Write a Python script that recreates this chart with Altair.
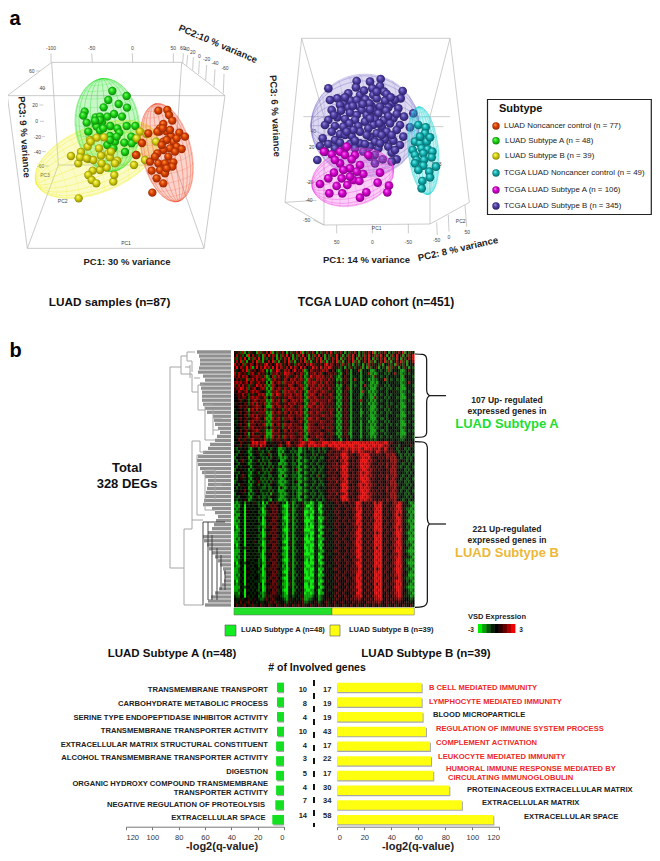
import altair as alt
import numpy as np
import pandas as pd

W, H = 644, 845
FONT = "Liberation Sans"
alt.data_transformers.disable_max_rows()

# ---------- coordinate systems ----------
PAGE = ([8, 8 + W], [0, W], [8, 8 + H], [0, H])
PCA_A = ([0, 720], [-8, 232], [0, 960], [-8, 312])      # panel a, left
PCA_B = ([0, 1200], [252, 652], [0, 900], [12, 312])    # panel a, right
HEAT = ([0, 90], [226, 406.3], [0, 85], [343, 598.7])   # panel b heat map

# ---------- panel a values ----------
green_a = [(337,273),(380,288),(325,300),(311,322),(356,312),(381,323),(254,335),(250,347),(342,342),(287,352),(300,350),(322,350),(366,350),(260,368),(287,372),(306,367),(290,380),(331,378),(380,378),(406,378),(300,392),(352,385),(330,408),(358,398),(394,410),(405,420),(373,428),(322,435),(345,425),(340,445),(375,456),(330,420),(300,360),(310,385),(395,430),(265,395),(350,410),(285,362)]
yellow_a = [(213,468),(243,456),(235,490),(240,472),(265,477),(270,420),(290,413),(263,440),(297,445),(303,467),(325,460),(330,472),(352,482),(300,510),(320,503),(305,490),(278,512),(265,525),(275,540),(289,550),(340,545),(343,525),(236,595),(402,495),(435,480),(420,395),(468,425),(410,465),(280,480),(272,425),(410,415),(312,412),(333,455),(260,475),(345,490),(440,402)]
red_a = [(475,332),(502,330),(507,345),(517,362),(490,372),(480,385),(500,395),(478,395),(513,408),(538,398),(555,410),(426,429),(490,425),(520,425),(530,440),(545,447),(510,445),(490,450),(472,460),(505,470),(520,487),(450,485),(475,490),(495,490),(455,512),(480,510),(495,520),(517,500),(470,535),(490,550),(457,578),(465,470),(530,415),(500,420),(525,455),(445,400),(472,395),(408,465),(500,505),(485,435),(510,390),(488,385)]
purple_b = [(290,183),(330,185),(362,177),(205,205),(288,202),(337,205),(360,198),(372,215),(380,222),(265,220),(300,225),(340,225),(428,213),(422,235),(395,250),(210,240),(232,235),(252,250),(272,242),(290,240),(316,238),(350,235),(375,242),(405,240),(240,255),(265,262),(295,258),(335,258),(360,260),(385,262),(415,265),(215,270),(243,272),(270,278),(305,270),(340,272),(378,272),(355,280),(320,285),(290,285),(205,300),(232,292),(255,297),(285,300),(315,305),(345,298),(372,300),(400,295),(432,290),(460,280),(195,315),(225,318),(250,320),(295,318),(340,315),(390,310),(420,315),(365,320),(450,322),(215,335),(240,342),(275,348),(300,335),(350,340),(380,335),(410,330),(325,325),(188,355),(225,360),(255,345),(300,370),(330,350),(375,358),(430,350),(400,362),(345,365),(180,378),(205,372),(240,368),(270,372),(330,380),(355,385),(420,375),(385,380),(395,398),(345,405),(310,395),(255,385),(172,420),(368,418),(410,418),(395,425),(345,430),(330,410),
            (312,212),(350,215),(392,232),(328,250),(308,252),(255,232),(278,258),(222,285),(268,310),(330,295),(358,310),(410,282),(280,330),(260,335),(320,345),(365,345),(395,345),(285,362),(315,372),(225,385),(195,395),(360,370),(405,390),(285,385),(330,268),(385,288)]
magenta_b = [(192,395),(215,403),(240,395),(255,405),(285,405),(240,430),(275,418),(300,435),(270,445),(325,405),(310,462),(360,458),(222,458),(245,475),(205,475),(280,480),(298,483),(180,492),(230,498),(262,495),(353,488),(387,497),(382,517),(208,520),(247,520),(319,517),(300,533),(225,420),(250,450),(290,455),(270,470),(260,380)]
cyan_b = [(475,315),(497,322),(495,340),(465,365),(480,370),(500,365),(510,352),(485,385),(503,388),(517,395),(458,390),(465,405),(490,400),(515,412),(470,420),(492,420),(465,430),(490,437),(528,440),(508,455),(475,450),(510,472),(487,483),(485,505),(480,350)]

# ellipsoids: colour, centre x, centre y, long semi-axis, short semi-axis, tilt of long axis (deg)
ellipsoids_a = [("#f0f020",290,478,195,100,-22),("#20e020",322,375,140,97,83),("#f05030",500,458,150,75,77)]
ell_purple = ("#7868c8",315,317,162,155,0)
ell_magenta = ("#f040e0",278,472,125,85,-15)
ell_cyan = ("#20d8d8",490,392,132,46,84)

frame_a = [(155,187,545,187),(22,287,675,287),(155,187,22,287),(545,187,675,287),(22,287,82,745),(675,287,612,745),(82,745,612,745),(155,187,175,495),(545,187,525,495),(175,495,82,745),(525,495,612,745),(175,495,525,495),(153,160,153,187),(275,160,277,187),(397,160,398,187),(520,160,520,187),(550,160,548,190),(563,165,560,197),(580,172,578,210),(598,182,596,222),(620,195,617,240),(645,208,642,258),(672,222,670,280),(107,213,120,213),(137,265,127,265),(118,315,130,315),(120,364,132,364),(125,410,135,410),(125,455,137,455),(135,498,147,498)]
frame_b = [(125,55,570,55),(125,55,75,547),(570,55,628,547),(75,547,192,615),(628,547,510,612),(192,615,510,612),(125,55,192,290),(570,55,510,290),(130,290,570,290),(440,320,550,320),(192,290,192,615),(510,290,510,612),(160,600,192,615),(230,615,230,640),(337,615,337,640),(445,612,445,640),(530,608,532,645),(565,585,567,635),(615,555,620,620),(170,541,75,547),(170,487,145,487),(165,380,175,380)]

tick_a = [("-100",153,143),("-50",275,143),("0",397,143),("50",520,143),("60",548,145),("40",560,148),("20",578,155),("0",598,168),("-20",620,178),("-40",645,190),("-60",675,205),("60",95,213),("40",127,265),("20",105,315),("0",110,364),("-20",112,410),("-40",112,455),("-60",122,498),("PC3",135,525),("PC2",188,602),("PC1",378,728)]
tick_b = [("50",230,665),("0",337,665),("-50",445,665),("PC1",350,625),("-50",530,660),("0",567,650),("50",622,635),("PC2",602,602),("-50",140,600),("-40",147,541),("-20",150,487),("20",155,380),("40",160,332),("PC3",530,432)]

legend_names = ["LUAD Noncancer control (n = 77)","LUAD Subtype A (n = 48)","LUAD Subtype B (n = 39)","TCGA LUAD Noncancer control (n = 49)","TCGA LUAD Subtype A (n = 106)","TCGA LUAD Subtype B (n = 345)"]
legend_x = [504,505,505,504,504,504]
legend_y = [126,140.7,156,173,190,206]

def sphere(light, body, dark):
    return {"gradient": "radial", "x1": .36, "y1": .3, "r1": 0, "x2": .5, "y2": .5, "r2": .55,
            "stops": [{"offset": 0, "color": light}, {"offset": .45, "color": body}, {"offset": 1, "color": dark}]}

S_RED = sphere("#ff9a50", "#de4400", "#8a2000")
S_GREEN = sphere("#90ff80", "#1cd814", "#0a7a0a")
S_YELLOW = sphere("#fffc90", "#d8d410", "#807c00")
S_CYAN = sphere("#80f4f4", "#10b0b0", "#045c5c")
S_MAGENTA = sphere("#ff88ff", "#d800d0", "#780078")
S_PURPLE = sphere("#a098e0", "#5040a8", "#241a5c")

# ---------- panel b values: one digit per gene block / sample block, 0 = -3 ... 8 = +3 ----------
heat_rows = [
"5362715263 4172637481 5263741526 3748152637 4152637485 2637415263 7415263748 1526374152 6374815263",
"4736251847 3625174837 6152738461 5273846152 7384615273 3846152738 4615273846 2738461527 4846152738",
"6257384162 7384162537 4162573841 6257384162 5738416257 3841625738 4162573841 6257384162 3841625738",
"3748261537 4826153748 2615374826 1537482615 3748261537 4826153748 2615374826 1537482615 3748261537",
"7564726576 4756378564 5867364755 2675647586 6356478576 4652736251 3624152736 3526143625 1736251435",
"5847638571 3847586738 4857637485 7648574358 6748376875 5362415263 2536141725 3614251726 3514263142",
"6345758265 6456751316 5875376746 8565712476 5656767546 4212456414 3471434311 2432432724 3431124643",
"7376563267 5375652426 6756387766 4657621566 7567345665 6321546314 4341433712 1243423243 7331224243",
"6575767456 6766371247 2675367635 6737512386 6776756375 3212465413 3431343321 6342342434 3341154342",
"4656358267 5756762126 7565376476 7567621766 3767665756 4121556314 7341433121 2243482423 4231124343",
"6767567476 3675651417 5676276667 5766312767 7657367565 4252465413 3431243311 2134342434 3331224743",
"6375756263 5867572127 6465365776 4567621667 6376756656 4121546314 2341473212 1253423243 4341124342",
"5668757256 7456761317 5676376377 6756712476 6767365765 3212456614 3431342311 1342342324 3231114343",
"5476567367 6765452126 6765276766 7367521766 7656766356 4121465313 4341733121 2243432443 5331224243",
"4565756256 3576761217 5876376675 6767412677 6467565675 4212556414 3431243212 1342342424 3341124342",
"4465665267 6765572426 6365365776 5667521766 7656366566 3121465314 4331433211 6243423243 4231114343",
"4456345256 7656661217 5675276467 6757612376 6766665765 4212556413 3437342312 1342342434 3341224242",
"3545465267 3756572126 6765365766 7566421667 7357665656 4121465314 4341433121 2243432423 4331124343",
"4456556356 6766461117 5676376576 5367612776 5766756365 3212556413 3432342311 1342342534 3241114342",
"3445465167 5756572326 6465266766 6567521466 6657665666 4151465314 4341433211 2243423243 4331224343",
"4356456256 6366661217 5676376475 6757612676 5766356575 4212556413 3431242312 1342342324 3341124242",
"3345465267 5756562116 6365365766 5667521366 6656766566 3121465314 3341433211 2233432443 4231114343",
"4356456356 6765471217 5675266676 4656612776 5765356665 4212556413 3432342311 1342242434 3341224342",
"3345465267 5656362126 6665365466 5567521666 6657665566 4121465314 4341433121 2243423243 4331124243",
"4356456166 6465671217 4675276675 6656412766 5466656665 3212556413 3431342312 1342342424 3241114342",
"3445365267 5656562426 6365265766 5667511766 6656756366 4121465314 3341432211 2233432443 4331224343",
"4346456356 6765361217 5574376475 6656612766 5665456665 4212556313 3431342311 1342242434 3341124242",
"3445465157 5356561116 6665365666 5367521665 6657655366 3121465214 4341433211 2243423343 4231114343",
"4356456256 6665471217 5375276576 6556612466 5766646565 4312556413 3431342312 1342342424 3341224342",
"4465365367 5556572326 5665365466 5567521765 5357655465 4331446424 4442443323 2343433433 4332234343",
"3446545358 7867785435 4556457854 6567876788 7676888778 8788778878 8887878788 7877788565 4534435354",
"4536435267 6758674545 3467346765 5678765877 8777876887 8878887888 7788887878 8788767645 3524543463",
"3243454213 4425342423 4311224342 3411324232 4324233456 6786678678 7787688786 7686587465 4235423243",
"4324543123 4533243254 4312134423 2311324432 3425324565 5656777568 6687766675 6876576565 5324342434",
"3245434213 4452334624 3411523342 4213423342 5243345655 6657887565 4668788756 5656457667 6432423242",
"2443545132 3443232425 4321212432 3511323423 2432244566 5746878656 5467877865 5465647576 7542342324",
"3245634213 4524233254 4341124342 4213312342 3423345655 6457687546 4668888675 6546456476 7634532424",
"4324543123 3442524224 3411212432 2411323423 4234334556 5746778656 5568787765 5465647566 7543234243",
"3243454313 4533243252 4325123442 3213312342 3423245656 6657887546 4668878756 5646457467 6632432342",
"2445434132 3445232425 4311212342 4611323423 2432344565 5746878565 5467887675 6465546576 7543423243",
"3324543213 4524323254 4321123342 3213412342 3423345655 6457787546 4668678765 5546456476 7534332424",
"4243654123 3433234224 3411512432 2311323423 4264234556 5646878656 5568787675 6465647566 7643234243",
"3245534213 4542323252 4321124342 3212312342 3423345656 6557687456 4668878756 5546457467 6542432342",
"2344434132 3463232425 3311212342 4511323433 2432344565 5746778565 5467887765 5465546576 7433423243",
"3425543213 4524323254 4321123342 3213412342 3423245655 6457887546 4678678675 6546456476 7634332424",
"4243454123 3433224224 3415212432 2311323423 4234334556 5646878656 5568787765 5465647566 7543234243",
"3345464213 4542333252 4311124342 3212312342 3423345656 6557887456 4668878756 5646457467 6642432342",
"2444534132 3443232415 3321212342 4211523423 2432344565 5746678565 5467887675 6465546576 7533423243",
"3324443213 4524223254 4321123342 3213412342 3423245655 6457887546 4678878765 5546456476 7634332424",
"3243454123 3433234214 3311212432 2311323423 4234234556 5646878656 5568787675 6465647566 7543234243",
"2123415343 5324031546 4634230351 2434512201 3411435434 5654654655 6887465646 8578546546 7687534212",
"1213404343 4423114365 6543100241 3234520011 4310245343 5465465465 5877546564 8788465456 6887453321",
"2124305434 3432025456 5643210351 2343511201 3401334543 5654546556 6878465646 7878546465 7787532212",
"1223404543 4423013546 5643110351 2434500110 3410245434 6465465546 5788546564 8788456456 6878453121",
"2114305434 3432115365 6534210241 3243501201 4321345343 5654546455 6887465646 8878546546 7857542312",
"1133405343 4324024546 5634100351 2434510100 3401135434 5465465546 6788546465 8788465456 6887453212",
"1214304434 3423015456 6543210251 3243500011 4310245343 5654654655 5887465564 7878546465 7787532121",
"1123405343 4432014365 5634120341 2434410201 3411345434 6465465456 6878546646 8788456546 6887453212",
"2024304434 3323115546 6543210351 3243510100 4310134543 5654546555 6687465565 8878465456 7867542311",
"2113405343 4424024456 5634100241 2434500011 3401345334 5465465546 5788546646 8788546465 6878453212",
"1124304434 3432015365 6543210351 3343511100 3420145443 6654546465 6887465564 8578456546 7887532121",
"1123405543 4323014546 5634120351 2434410201 4301345434 5465465556 6788546646 8788465456 6887543212",
"1214304434 3432125456 6543210241 3243500100 3411134543 5654654465 5887465564 8878546465 7687453111",
"1123405343 5423014365 5634100351 2434510011 4310345434 6465465546 6878546646 8788456546 6887532212",
"2024304434 3332015546 6534220351 3343501100 3401145343 5654546555 6887465565 8878465456 7787542321",
"2123425343 4424114456 5643100241 2434400101 3410345434 5465465456 5788546646 8588546465 6878453212",
"1114304434 3423015365 6534210351 3243510100 4321134543 6654546465 6887465564 8878456546 7887532111",
"1123405343 4332024546 5643110341 2434500011 3401345334 5465465556 6788546646 8788465456 6687543212",
"1214304434 3432015456 6534210351 3343511100 4310145443 5654654465 5887465564 8878546465 7787453321",
"1123405343 4423014365 5643100241 2434410201 3401345434 6465465546 6678546646 8788456546 6887532212",
"2024324434 3323115546 6534210351 3243500100 3410134543 5654546555 6887465565 8878465456 7887542111",
"2113405343 4424014456 5634120351 2434510011 4321345334 5465465456 5788546646 8788546465 6878453212",
"1124304434 3432025365 6543210241 3343501100 3401145443 6654546465 6687465564 8578456546 7887532321",
"1123405543 4323014546 5634100351 2434400101 3410345434 5465465556 6788546646 8788465456 6887543212",
"1214304434 3432015456 6534220351 3243510100 4301134543 5654654465 5887465564 8878546465 7787453111",
"1123405343 4432114365 5643100341 2434500011 3411345434 6465465546 6878546646 8788456546 6687532212",
"2024304434 3332015546 6534210351 3343511100 4310145343 5654546555 6887465565 8878465456 7887542321",
"2123405343 4424024456 5634110251 2434400201 3401345434 5465465456 5788546646 8588546465 6878453212",
"1114324434 3423015365 6543210351 3243500100 3420134543 6654546465 6887465564 8878456546 7887532111",
"1123405343 4324014546 5634100341 2434510011 4301345334 5465465556 6688546646 8788465456 6887543212",
"2214304434 3432125456 6534210351 3343501101 3401145443 5654654465 5887465564 8878546465 7787453221",
"3224405343 4423125365 5543211342 3435511112 4312345434 6465465546 6778546646 7788456546 6787533312",
"4335344534 5432236456 5444321353 4343611223 4412345543 5654556465 6676465564 7778546465 6676544323",
"5346453645 4343345365 6354432534 5454622334 5523456345 6455645546 5565546656 6676456556 5565453534",
"4635364536 3546354635 4635463546 3564635463 5463546354 6354635465 4635463546 5463546354 6354635463",
]
LEVELS = [-3, -2.25, -1.5, -0.75, 0, 0.75, 1.5, 2.25, 3]
heat_colors = ["#00f000", "#00a400", "#005c00", "#002200", "#000000", "#2c0000", "#640000", "#aa0000", "#f00000"]
scale_cells = [0, 1, 2, 3, 4, 5, 6, 7, 8]

leaf_start = [197,199,200,200,199,198,203,205,200,201,202,202,202,203,205,207,213,214,215,218,220,217,215,210,208,203,198,197,198,200,202,205,208,208,207,206,205,204,203,212,215,218,216,214,212,208,203,204,207,209,212,215,218,220,223,224,225,224,222,219,215,211,208,205]
tree_grey = [(170,367,170,568),(170,367,181,367),(170,568,184,568),(181,356,181,374),(181,356,187,356),(181,374,192,374),(187,352,187,361),(187,352,195,352),(187,361,192,361),(192,361,192,372),(192,374,192,392),(192,392,198,392),(198,385,198,410),(198,385,204,385),(198,410,205,410),(205,405,205,440),(205,405,213,405),(205,440,215,440),(213,410,213,435),(213,418,222,418),(213,430,219,430),(184,529,184,605),(184,529,192,529),(184,605,203,605),(192,441,192,529),(192,441,200,441),(200,441,200,452),(200,452,205,452),(192,520,203,520),(185,367,190,367),(190,365,190,378),(194,378,200,378),(197,455,197,515),(197,455,203,455),(197,515,205,515),(205,470,205,510),(205,470,215,470),(205,510,215,510),(215,470,215,500),(215,485,222,485)]
tree_dark = [(208,522,208,600),(203,522,225,522),(203,522,203,605),(212,535,212,600),(217,548,217,600),(221,555,221,590),(225,570,225,590)]

brace_a = [(15,42),(38,43),(47,48),(50,58),(50,150),(52,160),(60,167),(52,174),(50,185),(50,278),(47,286),(38,291),(15,292)]
brace_b = [(15,305),(38,306),(48,311),(52,322),(52,535),(54,546),(60,552),(54,558),(52,570),(52,785),(48,794),(38,800),(15,802)]

terms_a = ["TRANSMEMBRANE TRANSPORT","CARBOHYDRATE METABOLIC PROCESS","SERINE TYPE ENDOPEPTIDASE INHIBITOR ACTIVITY","TRANSMEMBRANE TRANSPORTER ACTIVITY","EXTRACELLULAR MATRIX STRUCTURAL CONSTITUENT","ALCOHOL TRANSMEMBRANE TRANSPORTER ACTIVITY","DIGESTION","ORGANIC HYDROXY COMPOUND TRANSMEMBRANE TRANSPORTER ACTIVITY","NEGATIVE REGULATION OF PROTEOLYSIS","EXTRACELLULAR SPACE"]
values_a = [5.3,5.3,5.3,5.3,6,6,6,6,6.6,8.9]
counts_a = [10,8,4,10,4,3,5,4,7,14]
terms_b = ["B CELL MEDIATED IMMUNITY","LYMPHOCYTE MEDIATED IMMUNITY","BLOOD MICROPARTICLE","REGULATION OF IMMUNE SYSTEM PROCESS","COMPLEMENT ACTIVATION","LEUKOCYTE MEDIATED IMMUNITY","HUMORAL IMMUNE RESPONSE MEDIATED BY CIRCULATING IMMUNOGLOBULIN","PROTEINACEOUS EXTRACELLULAR MATRIX","EXTRACELLULAR MATRIX","EXTRACELLULAR SPACE"]
values_b = [62.5,62.5,63.2,65.7,68.6,69.4,71.1,83,92.3,115.6]
counts_b = [17,19,19,43,17,22,17,30,34,58]
count_y = [690,704,718.3,732.3,746,759.3,774,787.7,801,815.7]

lab_a = [("TRANSMEMBRANE TRANSPORT",268,690),("CARBOHYDRATE METABOLIC PROCESS",268,703.7),("SERINE TYPE ENDOPEPTIDASE INHIBITOR ACTIVITY",268,717.7),("TRANSMEMBRANE TRANSPORTER ACTIVITY",268,731),("EXTRACELLULAR MATRIX STRUCTURAL CONSTITUENT",268,745),("ALCOHOL TRANSMEMBRANE TRANSPORTER ACTIVITY",268,758),("DIGESTION",268,772),("ORGANIC HYDROXY COMPOUND TRANSMEMBRANE",268,783.7),("TRANSPORTER ACTIVITY",268,793),("NEGATIVE REGULATION OF PROTEOLYSIS",265,804.7),("EXTRACELLULAR SPACE",265.5,818.3)]
lab_b_red = [("B CELL MEDIATED IMMUNITY",429,688),("LYMPHOCYTE MEDIATED IMMUNITY",429,702),("REGULATION OF IMMUNE SYSTEM PROCESS",436,729),("COMPLEMENT ACTIVATION",436,743),("LEUKOCYTE MEDIATED IMMUNITY",438,757),("HUMORAL IMMUNE RESPONSE MEDIATED BY",446,768.7),("CIRCULATING IMMUNOGLOBULIN",448,777.7)]
lab_b_black = [("BLOOD MICROPARTICLE",433,715),("PROTEINACEOUS EXTRACELLULAR MATRIX",467,789.7),("EXTRACELLULAR MATRIX",482,803),("EXTRACELLULAR SPACE",524,817)]


# ---------- helpers ----------
def X(field, s, **kw):
    return alt.X(field, type="quantitative", scale=alt.Scale(domain=s[0], range=s[1], zero=False, nice=False), axis=None, title=None, **kw)

def Y(field, s):
    return alt.Y(field, type="quantitative", scale=alt.Scale(domain=s[2], range=s[3], zero=False, nice=False), axis=None, title=None)

def segs(rows, s, color, width=0.6, **mk):
    df = pd.DataFrame(rows, columns=["x", "y", "x2", "y2"])
    return alt.Chart(df).mark_rule(color=color, strokeWidth=width, **mk).encode(x=X("x", s), y=Y("y", s), x2="x2", y2="y2")

def text(rows, s=PAGE, size=8, bold=True, color="#111", align="center", angle=None):
    df = pd.DataFrame(rows, columns=["t", "x", "y"])
    mk = dict(font=FONT, fontSize=size, fontWeight="bold" if bold else "normal", color=color, align=align, baseline="middle")
    if angle is not None:
        mk["angle"] = angle
    return alt.Chart(df).mark_text(**mk).encode(x=X("x", s), y=Y("y", s), text="t:N")

def balls(points, s, fill, size=70):
    df = pd.DataFrame(points, columns=["x", "y"])
    return alt.Chart(df).mark_point(filled=True, shape="circle", fill=fill, opacity=1, size=size).encode(x=X("x", s), y=Y("y", s))

def ellipsoid(color, cx, cy, a, b, tilt, s):
    th = np.radians(tilt)
    def rot(u, v):
        return cx + u * np.cos(th) - v * np.sin(th), cy + u * np.sin(th) + v * np.cos(th)
    t = np.linspace(0, 2 * np.pi, 181)
    ex, ey = rot(a * np.cos(t), b * np.sin(t))
    i0, i1 = int(np.argmin(ex)), int(np.argmax(ex))
    ex2 = np.r_[ex, ex]; ey2 = np.r_[ey, ey]
    if i1 < i0:
        i1 += 181
    lo_x, lo_y = ex2[i0:i1 + 1], ey2[i0:i1 + 1]
    j0, j1 = int(np.argmax(ex)), int(np.argmin(ex))
    if j1 < j0:
        j1 += 181
    hi_x, hi_y = ex2[j0:j1 + 1][::-1], ey2[j0:j1 + 1][::-1]
    grid = np.linspace(ex.min(), ex.max(), 120)
    fill = pd.DataFrame({"x": grid, "y": np.interp(grid, lo_x, lo_y), "y2": np.interp(grid, hi_x, hi_y)})
    area = alt.Chart(fill).mark_area(color=color, opacity=0.25, interpolate="monotone").encode(x=X("x", s), y=Y("y", s), y2="y2")
    rows = []
    g = 0
    for lon in np.radians(np.arange(0, 360, 15)):
        tt = np.linspace(0, np.pi, 31)
        xx, yy = rot(a * np.cos(tt), b * np.sin(tt) * np.cos(lon))
        rows += [(g, k, p, q) for k, (p, q) in enumerate(zip(xx, yy))]
        g += 1
    for lat in np.radians(np.arange(12, 180, 12)):
        vv = np.linspace(-np.pi / 2, np.pi / 2, 21)
        xx, yy = rot(a * np.cos(lat) + 0.12 * a * np.sin(lat) * np.cos(vv), b * np.sin(lat) * np.sin(vv))
        rows += [(g, k, p, q) for k, (p, q) in enumerate(zip(xx, yy))]
        g += 1
    mesh = alt.Chart(pd.DataFrame(rows, columns=["g", "o", "x", "y"])).mark_line(color=color, strokeWidth=0.4, opacity=0.5).encode(
        x=X("x", s), y=Y("y", s), detail="g:N", order="o:Q")
    return [area, mesh]


layers = []

# ---------- panel a: left PCA ----------
layers.append(segs(frame_a, PCA_A, "#b4b4b4", 0.7))
layers.append(text(tick_a, PCA_A, size=5, bold=False, color="#444"))
for e in ellipsoids_a:
    layers += ellipsoid(*e, PCA_A)
layers += [balls(green_a, PCA_A, S_GREEN), balls(yellow_a, PCA_A, S_YELLOW), balls(red_a, PCA_A, S_RED)]
layers.append(text([("PC1: 30 % variance", 127, 262)], size=9.5, color="#222"))
layers.append(text([("PC3: 9 % variance", 24, 137)], size=9.5, color="#222", angle=86))
layers.append(text([("PC2:10 % variance", 218, 44)], size=9.5, color="#222", angle=23))
layers.append(text([("LUAD samples (n=87)", 109.5, 302)], size=11.8, color="#111"))

# ---------- panel a: right PCA ----------
layers.append(segs(frame_b, PCA_B, "#b8b8b8", 0.7))
layers.append(text(tick_b, PCA_B, size=5, bold=False, color="#444"))
layers += ellipsoid(*ell_purple, PCA_B)
layers.append(balls(purple_b, PCA_B, S_PURPLE, 76))
layers += ellipsoid(*ell_magenta, PCA_B)
layers.append(balls(magenta_b, PCA_B, S_MAGENTA, 76))
layers += ellipsoid(*ell_cyan, PCA_B)
layers.append(balls(cyan_b, PCA_B, S_CYAN, 76))
layers.append(text([("PC1: 14 % variance", 366.5, 260)], size=9.5, color="#222"))
layers.append(text([("PC3: 6 % variance", 275, 116)], size=9.5, color="#222", angle=87))
layers.append(text([("PC2: 8 % variance", 458, 249)], size=9.5, color="#222", angle=347))
layers.append(text([("TCGA LUAD cohort (n=451)", 376, 302)], size=12, color="#111"))

# panel letters
layers.append(text([("a", 9.5, 19)], size=20, align="left", color="#000"))
layers.append(text([("b", 9.5, 351)], size=20, align="left", color="#000"))

# legend box
box = pd.DataFrame([{"x": 487.5, "x2": 651.3, "y": 99.5, "y2": 214.5}])
layers.append(alt.Chart(box).mark_rect(fill="white", stroke="#222", strokeWidth=1.2).encode(x=X("x", PAGE), x2="x2", y=Y("y", PAGE), y2="y2"))
layers.append(text([("Subtype", 499, 109)], size=11, align="left", color="#111"))
layers.append(text(list(zip(legend_names, legend_x, legend_y)), size=7.9, bold=False, align="left", color="#222"))
for fill, yy in zip([S_RED, S_GREEN, S_YELLOW, S_CYAN, S_MAGENTA, S_PURPLE], legend_y):
    layers.append(balls([(496, yy)], PAGE, fill, size=55))

# ---------- panel b: heat map ----------
cells = [{"c": c, "c2": c + 1.1, "r": r, "r2": r + 1.1, "v": LEVELS[int(ch)]}
         for r, row in enumerate(heat_rows) for c, ch in enumerate(row.replace(" ", ""))]
color_scale = alt.Scale(domain=LEVELS, range=heat_colors, type="ordinal")
layers.append(alt.Chart(pd.DataFrame(cells)).mark_rect(strokeWidth=0).encode(
    x=X("c", HEAT), x2="c2", y=Y("r", HEAT), y2="r2",
    color=alt.Color("v:O", scale=color_scale, legend=None)))

# dendrogram
leaves = pd.DataFrame({"x": leaf_start, "x2": [231] * len(leaf_start), "y": np.linspace(352, 605, len(leaf_start))})
layers.append(alt.Chart(leaves).mark_rule(color="#8f8f8f", strokeWidth=3.3).encode(x=X("x", PAGE), x2="x2", y=Y("y", PAGE)))
layers.append(segs(tree_grey, PAGE, "#a6a6a6", 1))
layers.append(segs(tree_dark, PAGE, "#333333", 0.9))

# class bar
cls = pd.DataFrame([{"x": 234, "x2": 332, "y": 607.7, "y2": 615}])
layers.append(alt.Chart(cls).mark_rect(fill="#22e02a", stroke="#666", strokeWidth=0.5).encode(x=X("x", PAGE), x2="x2", y=Y("y", PAGE), y2="y2"))
cls = pd.DataFrame([{"x": 332, "x2": 414.3, "y": 607.7, "y2": 615}])
layers.append(alt.Chart(cls).mark_rect(fill="#ffff10", stroke="#666", strokeWidth=0.5).encode(x=X("x", PAGE), x2="x2", y=Y("y", PAGE), y2="y2"))

# braces
BRACE = ([0, 750], [402, 652], [0, 900], [332, 632])
for b in (brace_a, brace_b):
    df = pd.DataFrame(b, columns=["x", "y"]).assign(o=range(len(b)))
    layers.append(alt.Chart(df).mark_line(color="#111", strokeWidth=1.2, interpolate="monotone").encode(x=X("x", BRACE), y=Y("y", BRACE), order="o:Q"))
layers.append(segs([(60,167,108,167),(60,552,108,552)], BRACE, "#111", 1.2))

layers.append(text([("Total", 127, 468), ("328 DEGs", 127, 484)], size=13, color="#111"))
layers.append(text([("107 Up- regulated", 507, 400), ("expressed genes in", 507, 411)], size=8.5, color="#222"))
layers.append(text([("221 Up-regulated", 507, 529), ("expressed genes in", 507, 540)], size=8.5, color="#222"))
layers.append(text([("LUAD Subtype A", 507, 424)], size=13, color="#22dd33"))
layers.append(text([("LUAD Subtype B", 507, 553)], size=13, color="#ebb838"))

# swatches under the heat map
for x0, x1, col in [(225, 236, "#10ee20"), (330, 340, "#ffff10")]:
    df = pd.DataFrame([{"x": x0, "x2": x1, "y": 625, "y2": 636}])
    layers.append(alt.Chart(df).mark_rect(fill=col, stroke="#555", strokeWidth=0.6).encode(x=X("x", PAGE), x2="x2", y=Y("y", PAGE), y2="y2"))
layers.append(text([("LUAD Subtype A (n=48)", 241, 630), ("LUAD Subtype B (n=39)", 349, 630)], size=7.5, align="left", color="#222"))

# colour key
KEY = ([0, 9], [470, 507], [0, 1], [616, 625])
key = pd.DataFrame({"c": scale_cells, "c2": [c + 1.1 for c in scale_cells], "r": [0] * 9, "r2": [1] * 9, "v": LEVELS})
layers.append(alt.Chart(key).mark_rect(strokeWidth=0).encode(
    x=X("c", KEY), x2="c2", y=Y("r", KEY), y2="r2", color=alt.Color("v:O", scale=color_scale, legend=None)))
layers.append(text([("VSD Expression", 497, 617)], size=7.5, color="#222"))
layers.append(text([("-3", 471, 630), ("3", 521, 630)], size=6.5, color="#222"))

# ---------- bar charts ----------
BAR_Y = [672, 819]   # chart pixels of the ten bands

def bars(terms, values, x_scale, fill):
    df = pd.DataFrame({"term": terms, "value": values})
    y = alt.Y("term:N", sort=terms, scale=alt.Scale(range=BAR_Y, paddingInner=0.36, paddingOuter=0.18), axis=None, title=None)
    shadow = alt.Chart(df).mark_bar(color="#a8a8a8", xOffset=1, yOffset=1.2).encode(
        x=alt.X("value:Q", scale=x_scale, axis=None, stack=None, title=None), y=y)
    main = alt.Chart(df).mark_bar(color=fill).encode(
        x=alt.X("value:Q", scale=x_scale, stack=None, title=None, axis=alt.Axis(
            orient="bottom", offset=818.7 - H, values=[0, 20, 40, 60, 80, 100, 120], grid=False, ticks=True, tickSize=3,
            labelFont=FONT, labelFontSize=7.5, labelColor="#333", labelPadding=3.5, domainColor="#777", tickColor="#777")),
        y=y)
    return [shadow, main]

layers += bars(terms_a, values_a, alt.Scale(domain=[0, 120], range=[276, 118], zero=True, nice=False), "#12e020")
layers += bars(terms_b, values_b, alt.Scale(domain=[0, 120], range=[329.3, 491.3], zero=True, nice=False), "#ffff10")

layers.append(text(lab_a, size=7.6, align="right", color="#222"))
layers.append(text(lab_b_red, size=7.6, align="left", color="#ee2a2a"))
layers.append(text(lab_b_black, size=7.6, align="left", color="#222"))
layers.append(text([(str(c), 307, y) for c, y in zip(counts_a, count_y)], size=7.5, align="right", color="#222"))
layers.append(text([(str(c), 323, y) for c, y in zip(counts_b, count_y)], size=7.5, align="left", color="#222"))
layers.append(segs([(314, 680, 314, 827)], PAGE, "#111", 2, strokeDash=[6, 7]))
layers.append(text([("LUAD Subtype A (n=48)", 172, 654), ("LUAD Subtype B (n=39)", 426, 654)], size=11.5, color="#111"))
layers.append(text([("# of Involved genes", 317, 667.5)], size=10.5, color="#111"))
layers.append(text([("-log2(q-value)", 222, 847.3), ("-log2(q-value)", 418, 847.3)], size=11, color="#222"))

chart = alt.layer(*layers).resolve_scale(x="independent", y="independent", color="independent").properties(
    width=W, height=H, padding=0, autosize=alt.AutoSizeParams(type="none"), background="white"
).configure_view(stroke=None)

chart.save("out.html", embed_options={"renderer": "svg", "actions": False})
